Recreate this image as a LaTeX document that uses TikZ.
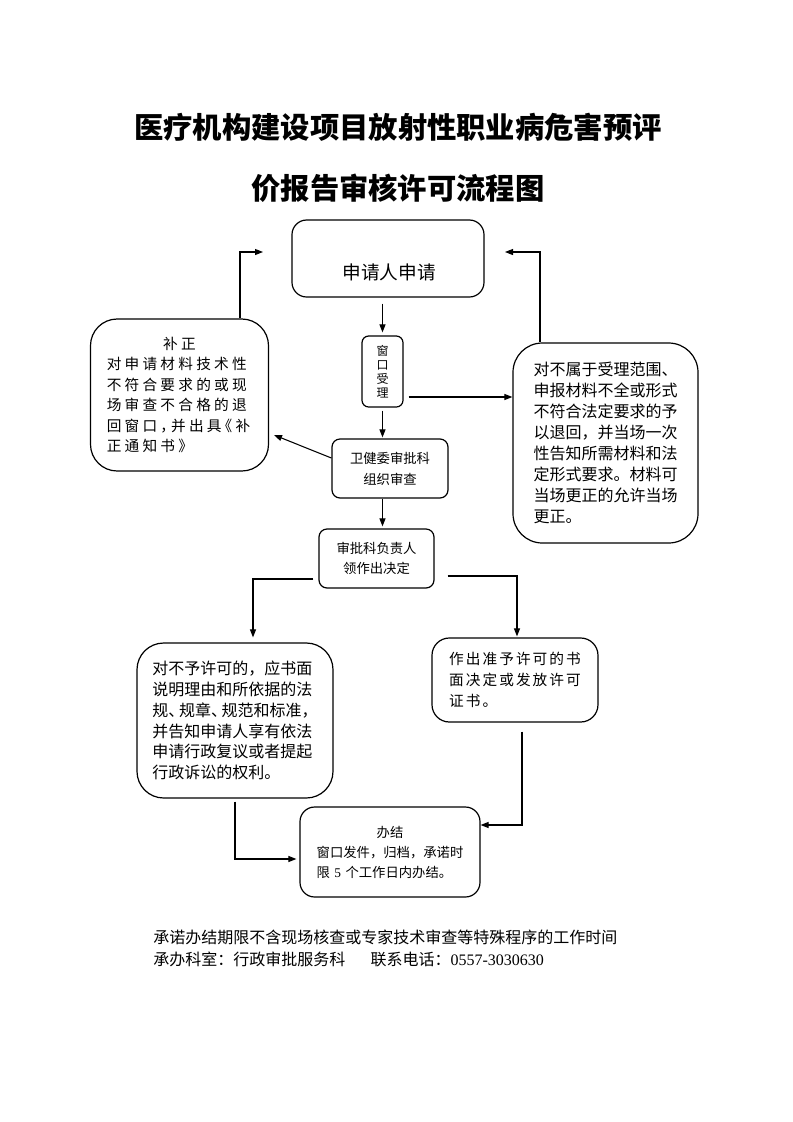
\documentclass[tikz,border=0pt]{standalone}
\usepackage{fontspec}
\setmainfont{Liberation Serif}
\newfontfamily\cjk{Noto Sans CJK SC}
\newfontfamily\cjkwide{Noto Sans CJK SC}[LetterSpace=22]
\newfontfamily\cjkmid{Noto Sans CJK SC}[LetterSpace=14]
\usetikzlibrary{positioning, arrows.meta}
\tikzset{
  box/.style={draw=black, line width=0.9pt, rounded corners=#1, align=center, inner sep=0pt},
  box/.default=6pt,
  arr/.style={-{Triangle[length=6pt,width=4.5pt]}, line width=0.8pt},
}

\begin{document}
\begin{tikzpicture}[x=0.75pt,y=-0.75pt]
  \useasboundingbox (0,0) rectangle (793,1122);
  % title
  \node[font=\cjk\bfseries\fontsize{22}{45.75}\selectfont, align=center] (title) at (398,157.5)
    {医疗机构建设项目放射性职业病危害预评\\价报告审核许可流程图};
  % boxes
  \node[box=11pt, minimum width=144pt, minimum height=57.75pt] (app) at (388,258.5) {};
  \node[font=\cjk\fontsize{14}{16}\selectfont] (apptext) at (389,272) {申请人申请};
  \node[box=5pt, minimum width=30.75pt, minimum height=53.25pt, font=\cjk\fontsize{9}{10.5}\selectfont] (win) at (382.5,371.5)
    {窗\\口\\受\\理};
  \node[box=6pt, minimum width=87pt, minimum height=44.25pt, font=\cjk\fontsize{10}{15.75}\selectfont] (wjw) at (390,468.5)
    {卫健委审批科\\组织审查};
  \node[box=20pt, minimum width=133.5pt, minimum height=114pt, text width=109pt, align=left, font=\cjkwide\fontsize{11}{15.4}\selectfont] (bz) at (179.5,395)
    {\hfill 补正\hfill\null\\对申请材料技术性\\不符合要求的或现\\场审查不合格的退\\回窗口，\kern-3pt 并出具\kern-3pt《补\\正通知书》};
  \node[box=22pt, minimum width=138.75pt, minimum height=150pt, align=left, font=\cjk\fontsize{12}{15.75}\selectfont] (ret) at (605.5,443)
    {对不属于受理范围、\\申报材料不全或形式\\不符合法定要求的予\\以退回，并当场一次\\性告知所需材料和法\\定形式要求。材料可\\当场更正的允许当场\\更正。};
  \node[box=6pt, minimum width=86.25pt, minimum height=44.25pt, font=\cjk\fontsize{10}{15}\selectfont] (spk) at (376.5,558.5)
    {审批科负责人\\领作出决定};
  \node[box=20pt, minimum width=147pt, minimum height=116.25pt, align=left, font=\cjk\fontsize{12}{15.6}\selectfont] (nope) at (235,720.5)
    {对不予许可的，应书面\\说明理由和所依据的法\\规、\kern-4pt 规章、\kern-4pt 规范和标准，\\并告知申请人享有依法\\申请行政复议或者提起\\行政诉讼的权利。};
  \node[box=13pt, minimum width=124.5pt, minimum height=63pt, align=left, font=\cjkmid\fontsize{11}{15.75}\selectfont] (ok) at (515,680)
    {作出准予许可的书\\面决定或发放许可\\证书。};
  \node[box=11pt, minimum width=135pt, minimum height=67.5pt, text width=110pt, align=left, font=\cjk\fontsize{10}{15}\selectfont] (done) at (390,852)
    {\hfill 办结\hfill\null\\窗口发件，归档，承诺时\\限 {\rmfamily 5} 个工作日内办结。};
  % free ends
  \coordinate (bzup) at (263,252);
  \coordinate (retup) at (505,252);
  \coordinate (bzin) at (274,435);
  % connectors
  \draw[arr, shorten <=4.5pt, shorten >=2.25pt] (app.south -| win.north) -- (win.north);
  \draw[arr, shorten <=2.25pt, shorten >=0.75pt] (win.south) -- (win.south |- wjw.north);
  \draw[arr, shorten >=1.5pt] (wjw.south -| win.south) -- (spk.north -| win.south);
  \draw[arr] (wjw.west |- 0,458) -- (bzin);
  \draw[arr] (bz.north -| 240,0) |- (bzup);
  \draw[arr, shorten <=3.75pt] (win.east |- 0,397) -- (ret.west |- 0,397);
  \draw[arr] (ret.north -| 540,0) |- (retup);
  \draw[arr, shorten <=3.75pt, shorten >=3.75pt] (spk.west |- 0,579) -| (nope.north -| 253,0);
  \draw[arr, shorten <=9.75pt, shorten >=0.75pt] (spk.east |- 0,576) -| (ok.north -| 517,0);
  \draw[arr, shorten <=2.25pt, shorten >=2.25pt] (nope.south -| 235,0) |- (done.west |- 0,859);
  \draw[arr, shorten <=6.75pt] (ok.south -| 522,0) |- (done.east |- 0,825);
  % footer
  \node[anchor=west, align=left, inner sep=0pt, font=\cjk\fontsize{12}{16.5}\selectfont] (note) at (153,948)
    {承诺办结期限不含现场核查或专家技术审查等特殊程序的工作时间\\承办科室：行政审批服务科\hspace{19pt}联系电话：{\rmfamily 0557-3030630}};
\end{tikzpicture}
\end{document}
